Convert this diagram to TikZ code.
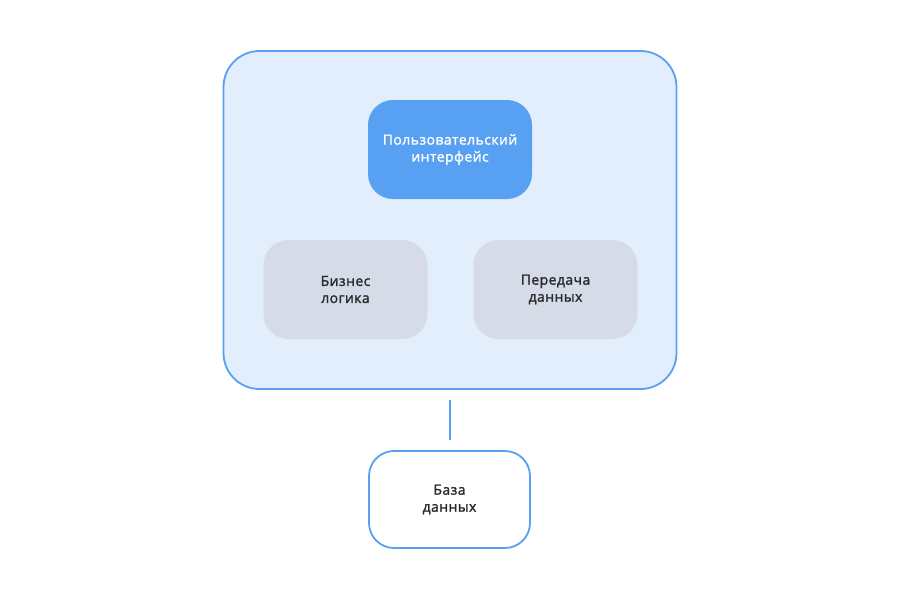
\documentclass[tikz,border=0pt]{standalone}
\usepackage{fontspec}
\setmainfont{Open Sans}[RawFeature={embolden=1.6}, LetterSpace=3]
\definecolor{bord}{HTML}{5A9FF0}
\definecolor{outerfill}{HTML}{E2EEFC}
\definecolor{uifill}{HTML}{58A0F2}
\definecolor{greyfill}{HTML}{D5DCE8}
\definecolor{txt}{HTML}{2B2B2B}
\tikzset{
  box/.style={rounded corners=25pt, minimum width=164pt, minimum height=99pt, align=center, font=\fontsize{14}{17}\selectfont, inner sep=0pt},
  grey/.style={box, fill=greyfill, text=txt},
  ui/.style={box, fill=uifill, text=white},
  db/.style={box, draw=bord, line width=1.8pt, fill=white, text=txt, minimum width=161pt, minimum height=97pt},
  outer/.style={rounded corners=36pt, draw=bord, line width=1.8pt, fill=outerfill, minimum width=453pt, minimum height=338pt, inner sep=0pt},
  conn/.style={draw=bord, line width=1.8pt, shorten <=10pt, shorten >=10pt}
}
\begin{document}
\begin{tikzpicture}[x=1pt,y=-1pt]
\useasboundingbox (0,0) rectangle (900,600);
\node[outer] (app) at (450,220) {};
\node[ui] (ui) at (450,149.5) {Пользовательский\\интерфейс};
\node[grey] (biz) at (345.5,289.5) {Бизнес\\логика};
\node[grey] (net) at (555.5,289.5) {Передача\\данных};
\node[db] (db) at (449.5,499.5) {База\\данных};
\draw[conn] (app.south) -- (app.south |- db.north);
\end{tikzpicture}
\end{document}
